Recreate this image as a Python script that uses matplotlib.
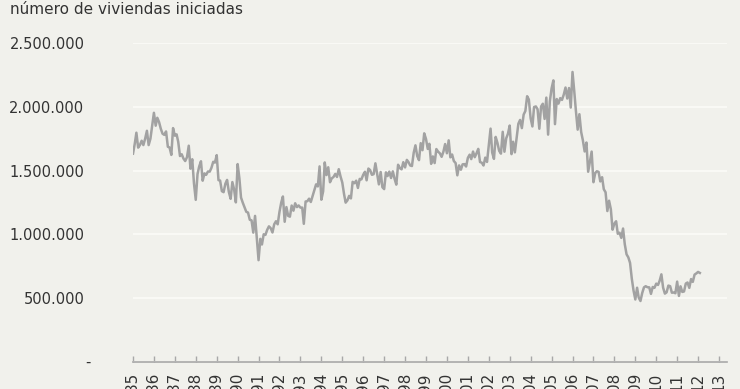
import datetime as dt
import numpy as np
import pandas as pd
import matplotlib
matplotlib.use("Agg")
import matplotlib.pyplot as plt
import matplotlib.transforms as mtransforms

# monthly housing starts, thousands, Jan 1985 - Feb 2012
starts_k = [
    1633, 1711, 1797, 1680, 1700, 1734, 1700, 1750, 1812, 1700, 1750, 1850,  # 1985
    1953, 1852, 1914, 1880, 1828, 1789, 1780, 1807, 1687, 1681, 1623, 1833,  # 1986
    1774, 1784, 1726, 1614, 1628, 1594, 1575, 1605, 1695, 1515, 1589, 1400,  # 1987
    1271, 1473, 1532, 1573, 1421, 1478, 1467, 1493, 1492, 1522, 1569, 1563,  # 1988
    1621, 1425, 1422, 1339, 1331, 1397, 1427, 1332, 1279, 1410, 1351, 1251,  # 1989
    1551, 1437, 1289, 1248, 1212, 1177, 1171, 1115, 1110, 1014, 1145, 969,   # 1990
    798, 965, 921, 1001, 996, 1036, 1063, 1049, 1015, 1079, 1103, 1079,      # 1991
    1176, 1250, 1297, 1099, 1214, 1145, 1139, 1226, 1186, 1244, 1214, 1227,  # 1992
    1210, 1210, 1083, 1258, 1260, 1280, 1254, 1300, 1343, 1392, 1376, 1533,  # 1993
    1272, 1337, 1564, 1465, 1526, 1409, 1439, 1450, 1474, 1450, 1511, 1455,  # 1994
    1407, 1316, 1249, 1267, 1302, 1282, 1412, 1401, 1421, 1364, 1435, 1431,  # 1995
    1467, 1491, 1424, 1516, 1504, 1467, 1472, 1557, 1475, 1392, 1489, 1370,  # 1996
    1355, 1486, 1457, 1492, 1442, 1494, 1437, 1390, 1546, 1520, 1510, 1566,  # 1997
    1525, 1584, 1567, 1540, 1536, 1641, 1698, 1614, 1582, 1715, 1660, 1792,  # 1998
    1748, 1670, 1710, 1553, 1611, 1559, 1669, 1648, 1635, 1608, 1648, 1708,  # 1999
    1636, 1737, 1604, 1626, 1575, 1559, 1463, 1541, 1507, 1549, 1551, 1532,  # 2000
    1600, 1625, 1590, 1649, 1605, 1636, 1670, 1567, 1562, 1540, 1602, 1568,  # 2001
    1698, 1829, 1642, 1592, 1764, 1717, 1655, 1633, 1804, 1648, 1753, 1788,  # 2002
    1853, 1629, 1726, 1643, 1751, 1867, 1897, 1833, 1939, 1967, 2083, 2057,  # 2003
    1911, 1846, 1998, 2003, 1981, 1828, 2002, 2024, 1905, 2072, 1782, 2042,  # 2004
    2144, 2207, 1864, 2061, 2025, 2068, 2054, 2095, 2151, 2065, 2147, 1994,  # 2005
    2273, 2119, 1969, 1821, 1942, 1802, 1737, 1650, 1720, 1491, 1570, 1649,  # 2006
    1409, 1480, 1495, 1490, 1415, 1448, 1354, 1330, 1183, 1264, 1197, 1037,  # 2007
    1084, 1103, 1005, 1013, 973, 1046, 923, 844, 820, 777, 652, 560,         # 2008
    490, 582, 505, 478, 540, 585, 594, 586, 585, 534, 588, 581,              # 2009
    614, 604, 636, 687, 583, 536, 546, 599, 594, 543, 545, 539,              # 2010
    630, 518, 593, 549, 553, 615, 623, 581, 650, 628, 685, 694,              # 2011
    706, 698,                                                                # 2012
]
first_month = "1985-01-01"

tick_years = list(range(1985, 2014))
tick_labels = [f"{y % 100:02d}" for y in tick_years]
y_ticks = [0, 500000, 1000000, 1500000, 2000000, 2500000]

dates = pd.date_range(first_month, periods=len(starts_k), freq="MS")
values = np.array(starts_k) * 1000

bg = "#f1f1ec"
txt = "#333333"

fig = plt.figure(figsize=(7.4, 3.89), dpi=100, facecolor=bg)
ax = fig.add_axes([133 / 740, 27 / 389, 594 / 740, 319 / 389])
ax.set_facecolor(bg)

ax.plot(dates, values, color="#a2a2a2", lw=1.8, solid_joinstyle="round")

ax.set_xlim(dt.datetime(1985, 1, 1), dt.datetime(2013, 5, 20))
ax.set_ylim(0, 2500000)

ax.set_xticks([dt.datetime(y, 1, 1) for y in tick_years])
ax.set_xticklabels(tick_labels, rotation=90, fontsize=11, color=txt)
ax.tick_params(axis="x", direction="in", length=4, width=1, color="#a8a8a8", pad=8)

ax.set_yticks(y_ticks)
ax.set_yticklabels([f"{v:,.0f}".replace(",", ".") if v else "" for v in y_ticks],
                   fontsize=10.5, color=txt)
ax.tick_params(axis="y", length=0, pad=35)
ax.yaxis.grid(True, color="#fbfbf8", lw=1.2)
ax.set_axisbelow(True)

# zero is written as a dash, as in the original
trans = mtransforms.blended_transform_factory(ax.transAxes, ax.transData)
ax.text(-0.072, 0, "-", transform=trans, ha="right", va="center",
        fontsize=10.5, color=txt)

for side in ["top", "right", "left"]:
    ax.spines[side].set_visible(False)
ax.spines["bottom"].set_color("#a8a8a8")
ax.spines["bottom"].set_linewidth(1.2)

fig.text(10 / 740, 1 - 10 / 389, "número de viviendas iniciadas",
         fontsize=11, color=txt, ha="left", va="center")

fig.savefig("out.png", dpi=100, facecolor=bg)
